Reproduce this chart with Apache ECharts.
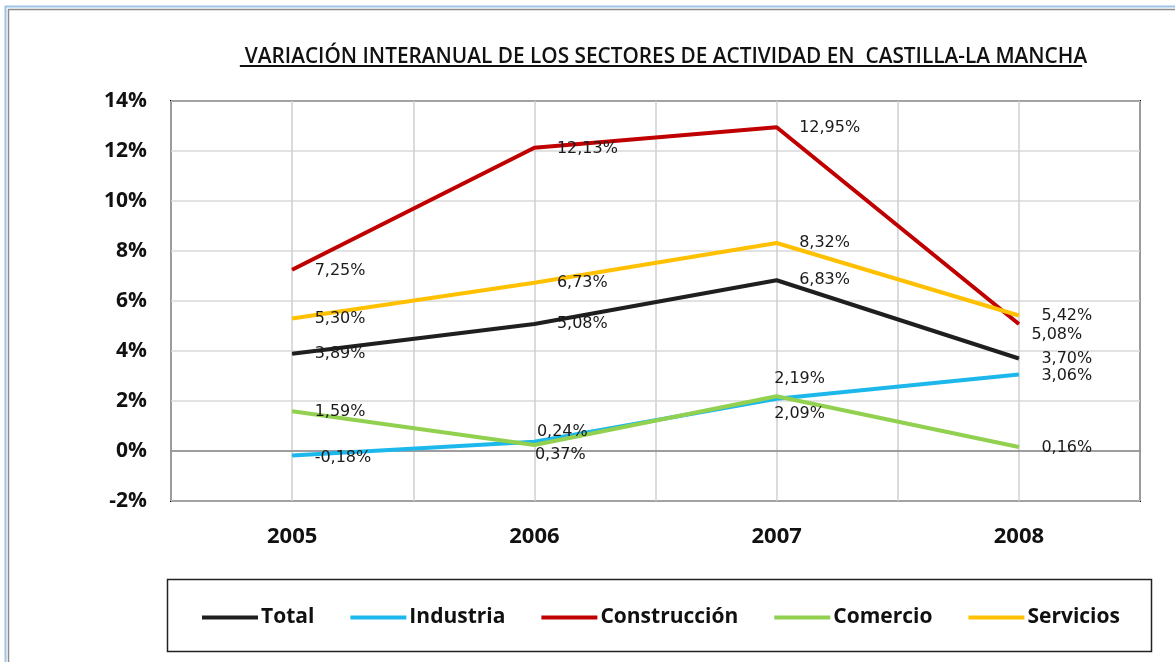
<!DOCTYPE html>
<html>
<head>
<meta charset="utf-8">
<script src="https://cdn.jsdelivr.net/npm/echarts@6/dist/echarts.min.js"></script>
<style>
  html, body { margin: 0; padding: 0; background: #fff; }
  #chart { width: 1175px; height: 662px; }
</style>
</head>
<body>
<div id="chart"></div>
<script>
const years = ["2005", "2006", "2007", "2008"];
const total = [3.89, 5.08, 6.83, 3.70];
const industria = [-0.18, 0.37, 2.09, 3.06];
const construccion = [7.25, 12.13, 12.95, 5.08];
const comercio = [1.59, 0.24, 2.19, 0.16];
const servicios = [5.30, 6.73, 8.32, 5.42];
const yTicks = [-2, 0, 2, 4, 6, 8, 10, 12, 14];

const titleText = "VARIACIÓN INTERANUAL DE LOS SECTORES DE ACTIVIDAD EN  CASTILLA-LA MANCHA";
const titleFont = "600 20.8px 'Open Sans'";

// label nudges so the numbers sit where the original places them
const labelShift = {
  Industria: [[0, 2], [-22, 13], [-25, 15], [0, 1]],
  Comercio: [[0, 1], [-20, -13], [-25, -17], [0, 1]],
  "Construcción": [[0, 1], [0, 1], [0, 1], [-10, 11]]
};

function fmt(v) {
  return v.toFixed(2).replace(".", ",") + "%";
}

function makeSeries(name, values, color) {
  const shift = labelShift[name];
  return {
    name: name,
    type: "line",
    // labels need a symbol to hang on, so keep a tiny one
    symbol: "circle",
    symbolSize: 1,
    data: values.map((v, i) => {
      const item = { value: v };
      if (shift) {
        item.label = { offset: shift[i] };
      }
      return item;
    }),
    lineStyle: { color: color, width: 4 },
    itemStyle: { color: color },
    label: {
      show: true,
      position: "right",
      distance: 22,
      formatter: p => fmt(p.value),
      fontFamily: "DejaVu Sans",
      fontSize: 16,
      color: "#1a1a1a"
    },
    animation: false
  };
}

const chart = echarts.init(document.getElementById("chart"));

// underline length from the title's own width
const ctx = document.createElement("canvas").getContext("2d");
ctx.font = titleFont;
const titleW = ctx.measureText(titleText).width;
const titleX = 661;

chart.setOption({
  animation: false,
  title: {
    text: titleText,
    left: titleX,
    top: 42,
    textAlign: "center",
    textStyle: {
      fontFamily: "Open Sans",
      fontWeight: 600,
      fontSize: 20.8,
      color: "#111"
    }
  },
  graphic: [
    {
      type: "rect",
      shape: { x: 5.5, y: 6.5, width: 1200, height: 700 },
      style: { fill: null, stroke: "#9dc3e6", lineWidth: 2 },
      silent: true
    },
    {
      type: "rect",
      shape: { x: 8.5, y: 9.5, width: 1200, height: 700 },
      style: { fill: null, stroke: "#8c8c8c", lineWidth: 1.5 },
      silent: true
    },
    {
      type: "line",
      shape: { x1: titleX - titleW / 2, y1: 66, x2: titleX + titleW / 2, y2: 66 },
      style: { stroke: "#111", lineWidth: 2 },
      silent: true
    },
    {
      type: "rect",
      shape: { x: 167.5, y: 579.5, width: 984, height: 72 },
      style: { fill: null, stroke: "#222", lineWidth: 1.5 },
      silent: true
    }
  ],
  legend: {
    left: 202,
    top: 607,
    padding: 0,
    icon: "rect",
    itemWidth: 56,
    itemHeight: 4,
    itemGap: 36,
    textStyle: {
      fontFamily: "Open Sans",
      fontWeight: "bold",
      fontSize: 21,
      color: "#111",
      padding: [0, 0, 0, -2]
    },
    data: ["Total", "Industria", "Construcción", "Comercio", "Servicios"]
  },
  grid: {
    left: 171,
    right: 35,
    top: 101,
    bottom: 161,
    show: true,
    borderColor: "#000",
    borderWidth: 2,
    containLabel: false
  },
  xAxis: [
    {
      type: "category",
      data: years,
      boundaryGap: true,
      axisLine: { onZero: true, lineStyle: { color: "#888", width: 1.5 } },
      axisTick: { show: false },
      axisLabel: {
        margin: 25,
        fontFamily: "Open Sans",
        fontWeight: "bold",
        fontSize: 22,
        color: "#111"
      },
      splitLine: { show: false }
    },
    {
      // finer vertical grid: one line per half category
      type: "category",
      data: ["", "", "", "", "", "", "", ""],
      boundaryGap: true,
      position: "bottom",
      show: true,
      axisLine: { show: false },
      axisTick: { show: false },
      axisLabel: { show: false },
      splitLine: { show: true, lineStyle: { color: "#cfcfcf", width: 1.5 } }
    }
  ],
  yAxis: {
    type: "value",
    min: yTicks[0],
    max: yTicks[yTicks.length - 1],
    interval: 2,
    axisLine: { show: false },
    axisTick: { show: false },
    axisLabel: {
      margin: 24,
      formatter: v => v + "%",
      fontFamily: "Open Sans",
      fontWeight: "bold",
      fontSize: 21,
      color: "#111"
    },
    splitLine: { lineStyle: { color: "#d9d9d9", width: 1.5 } }
  },
  series: [
    makeSeries("Total", total, "#1f1f1f"),
    makeSeries("Industria", industria, "#1cb8ec"),
    makeSeries("Construcción", construccion, "#c00000"),
    makeSeries("Comercio", comercio, "#92d050"),
    makeSeries("Servicios", servicios, "#ffc000")
  ]
});
</script>
</body>
</html>
